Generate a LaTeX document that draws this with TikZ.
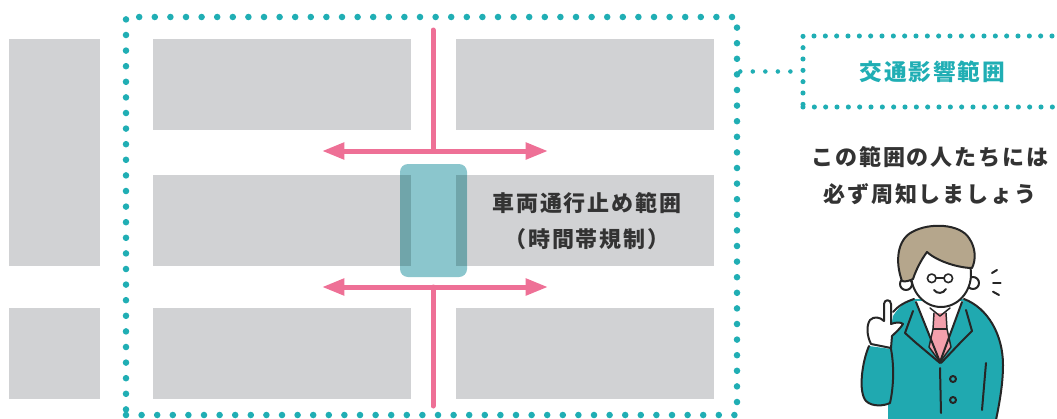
\documentclass[tikz,border=0pt]{standalone}
\usepackage{fontspec}
\usetikzlibrary{arrows.meta}
\newfontfamily\jpLabel{Noto Sans CJK JP}[LetterSpace=8]
\newfontfamily\jpText{Noto Sans CJK JP}[LetterSpace=9]
\definecolor{dotteal}{HTML}{20AEB4}
\definecolor{blockgray}{HTML}{D1D2D4}
\definecolor{roadpink}{HTML}{EE7096}
\definecolor{closefill}{HTML}{8BC6CD}
\definecolor{closedark}{HTML}{70A5AA}
\definecolor{inkdark}{HTML}{333333}
\definecolor{suitteal}{HTML}{20A9B0}
\definecolor{hairbeige}{HTML}{B5A68C}
\definecolor{tiepink}{HTML}{F3A0AC}
\tikzset{
  block/.style={fill=blockgray},
  areadots/.style={draw=dotteal, line width=4.9pt, line cap=round, dash pattern=on 0pt off 11.7pt},
  boxdots/.style={draw=dotteal, line width=3.8pt, line cap=round, dash pattern=on 0pt off 8.5pt},
  linkdots/.style={draw=dotteal, line width=3.4pt, line cap=round, dash pattern=on 0pt off 9.4pt},
  road/.style={draw=roadpink, line width=3.75pt},
  roadarrow/.style={road, {Triangle[length=16.7pt,width=12pt]}-{Triangle[length=16.7pt,width=12pt]}},
  ink/.style={draw=black!85, line width=1.5pt, line cap=round, line join=round},
  maptext/.style={font=\jpText\bfseries\fontsize{16.5pt}{19pt}\selectfont, text=inkdark, inner sep=0pt},
}
\begin{document}
\begin{tikzpicture}[x=0.75pt,y=-0.75pt]
\useasboundingbox (0,0) rectangle (1057,418);
\clip (0,0) rectangle (1057,418);

% city blocks
\path[block] (9,39) rectangle (100,266);
\path[block] (9,308) rectangle (100,399);
\path[block] (153,39) rectangle (411,130);
\path[block] (456,39) rectangle (714,130);
\path[block] (153,175) rectangle (411,266);
\path[block] (456,175) rectangle (714,266);
\path[block] (153,308) rectangle (411,399);
\path[block] (456,308) rectangle (714,399);

% closed section of the road
\fill[closefill, rounded corners=6pt] (400,164) rectangle (467,277);
\fill[closedark] (400,175) rectangle (411,266);
\fill[closedark] (456,175) rectangle (467,266);

% detour routes
\coordinate (northend) at (433,30);
\coordinate (northjoin) at (433,151);
\coordinate (nwest) at (322,151);
\coordinate (neast) at (548,151);
\coordinate (southend) at (433,406);
\coordinate (southjoin) at (433,287);
\coordinate (swest) at (322,287);
\coordinate (seast) at (548,287);
\draw[road, line cap=round] (northend) -- (northjoin);
\draw[road, line cap=round] (southjoin) -- (southend);
\draw[roadarrow] (nwest) -- (neast);
\draw[roadarrow] (swest) -- (seast);

\node[maptext] (closed1) at (587,203) {車両通行止め範囲};
\node[maptext] (closed2) at (587,239) {（時間帯規制）};

% affected area and its label
\node[areadots, minimum width=458.25pt, minimum height=298.5pt, inner sep=0pt] (area) at (431.5,216) {};
\node[boxdots, minimum width=194.25pt, minimum height=53.25pt, inner sep=0pt,
      font=\jpLabel\bfseries\fontsize{17pt}{19pt}\selectfont, text=dotteal] (zonebox) at (932.5,71.5) {交通影響範囲};
\draw[linkdots] (zonebox.west -| area.east) -- (zonebox.west);

\node[maptext] (notice1) at (930,157) {この範囲の人たちには};
\node[maptext] (notice2) at (930,194) {必ず周知しましょう};

% the presenter: suit
\fill[suitteal] (893,316) .. controls (899,306) and (907,301) .. (914,299) -- (964,299)
  .. controls (988,308) and (1003,335) .. (1003,365) .. controls (1003,385) and (999,405) .. (996,420)
  -- (888,420) -- (889,340) -- cycle;
\draw[ink] (964,299) .. controls (988,308) and (1003,335) .. (1003,365) .. controls (1003,385) and (999,405) .. (996,420);
\draw[ink] (914,299) .. controls (905,302) and (898,306) .. (893,312);
% shirt and tie
\fill[white] (915,301) -- (963,301) -- (940,362) -- cycle;
\fill[tiepink] (934,313) -- (946,313) -- (947,329) -- (951,347) -- (940,362) -- (929,347) -- (933,329) -- cycle;
\draw[ink, line width=1.1pt] (934,313) -- (933,329) -- (929,347) -- (940,362) -- (951,347) -- (947,329) -- (946,313);
\draw[ink, line width=1.1pt] (933,329) -- (947,329);
\draw[ink, line width=1.1pt] (930,308) -- (940,316) -- (950,308);
% lapels
\draw[ink] (916,302) -- (940,362);
\draw[ink] (962,302) -- (940,362);
\draw[ink] (913,311) -- (905,333) -- (915,342) -- (940,363);
\draw[ink] (966,310) -- (972,331) -- (961,342) -- (941,363);
% front, buttons and fold
\draw[ink] (940,368) -- (941,413);
\draw[ink] (953,379) circle[radius=3];
\draw[ink] (953,400) circle[radius=3];
\draw[ink] (986,363) -- (982,410);
% raised arm and hand
\filldraw[fill=suitteal, ink] (869,346) .. controls (862,362) and (858,392) .. (866,401)
  .. controls (872,407) and (884,406) .. (890,403) .. controls (894,385) and (894,365) .. (891,349);
\filldraw[fill=white, ink] (884,321) -- (884,304) .. controls (884,299) and (891,299) .. (891,304)
  -- (891,324) .. controls (896,322) and (901,322) .. (903,324)
  .. controls (900,329) and (895,333) .. (892,336) -- (891,348) -- (871,344)
  .. controls (867,336) and (866,326) .. (870,320) .. controls (874,316) and (880,317) .. (884,321);
% head
\filldraw[fill=white, ink] (906,284) circle[radius=6];
\filldraw[fill=white, ink] (973,283) circle[radius=6];
\filldraw[fill=white, ink] (941,274) ellipse[x radius=30, y radius=33];
\filldraw[fill=hairbeige, ink] (902,281) .. controls (895,262) and (897,240) .. (912,232)
  .. controls (930,222) and (960,224) .. (969,238) .. controls (976,248) and (976,260) .. (972,268)
  .. controls (960,268) and (938,262) .. (927,252) .. controls (921,260) and (916,270) .. (913,279)
  .. controls (909,281) and (905,282) .. (902,281) -- cycle;
% glasses and smile
\draw[ink, line width=1.2pt] (931.7,278.3) circle[radius=4.3];
\draw[ink, line width=1.2pt] (948.3,278.3) circle[radius=4.3];
\draw[ink, line width=1.2pt] (936,278) -- (944,278);
\draw[ink] (934,290) .. controls (937,294) and (943,294) .. (946,289);
% emphasis marks
\draw[ink] (992,273) -- (997,270);
\draw[ink] (993,283.3) -- (1000.5,283.3);
\draw[ink] (993,291.7) -- (999,295);
\end{tikzpicture}
\end{document}
